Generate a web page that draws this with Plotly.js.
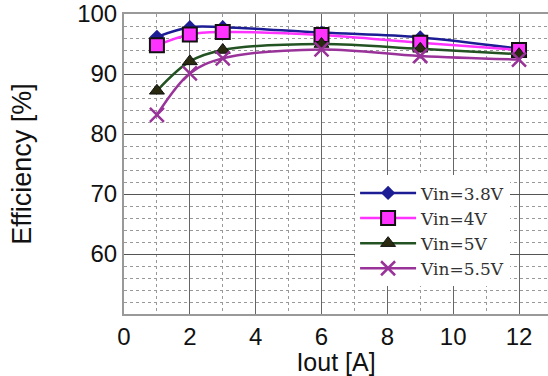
<!DOCTYPE html>
<html>
<head>
<meta charset="utf-8">
<script src="https://cdn.plot.ly/plotly-3.0.1.min.js"></script>
<style>html,body{margin:0;padding:0;background:#fff;}#chart{width:548px;height:376px;}</style>
</head>
<body>
<div id="chart"></div>
<script>
const iout = [1, 2, 3, 6, 9, 12];
const vin38 = [96.2, 97.8, 97.8, 96.9, 96.1, 94.2];
const vin4 = [94.8, 96.6, 97.0, 96.5, 95.2, 94.0];
const vin5 = [87.2, 92.1, 94.0, 95.0, 94.2, 93.3];
const vin55 = [83.2, 90.1, 92.6, 94.1, 93.0, 92.4];
const seriesNames = ['Vin=3.8V', 'Vin=4V', 'Vin=5V', 'Vin=5.5V'];
const xTicks = [0, 2, 4, 6, 8, 10, 12];
const yTicks = [60, 70, 80, 90, 100];

const traces = [
  {x: iout, y: vin38, name: seriesNames[0], mode: 'lines+markers',
   line: {color: '#1c1c94', width: 2.5, shape: 'spline'},
   marker: {symbol: 'diamond', size: 11, color: '#1c1c94'}},
  {x: iout, y: vin4, name: seriesNames[1], mode: 'lines+markers',
   line: {color: '#ff33ff', width: 2.5, shape: 'spline'},
   marker: {symbol: 'square', size: 14, color: '#ff33ff', line: {color: '#111', width: 2}}},
  {x: iout, y: vin5, name: seriesNames[2], mode: 'lines+markers',
   line: {color: '#235323', width: 2.5, shape: 'spline'},
   marker: {symbol: 'triangle-up', size: 13, color: '#2a2a10', line: {color: '#111', width: 1}}},
  {x: iout, y: vin55, name: seriesNames[3], mode: 'lines+markers',
   line: {color: '#993399', width: 2.5, shape: 'spline'},
   marker: {symbol: 'x-thin', size: 14, color: '#993399', line: {color: '#993399', width: 2.5}}}
];

const layout = {
  width: 548, height: 376,
  margin: {l: 124, r: 0, t: 14, b: 62},
  paper_bgcolor: '#fff', plot_bgcolor: '#fff',
  showlegend: true,
  legend: {x: 0.545, y: 0.462, xanchor: 'left', yanchor: 'top',
    bgcolor: '#fff', borderwidth: 0, itemwidth: 56,
    font: {family: 'DejaVu Serif, serif', size: 17, color: '#333'}},
  xaxis: {range: [0, 12.88], tickvals: xTicks, ticktext: xTicks.map(String),
    showgrid: true, gridcolor: '#666', gridwidth: 1,
    minor: {dtick: 1, tick0: 0, showgrid: true, gridcolor: '#999', griddash: 'dot', gridwidth: 1},
    showline: true, linecolor: '#999', linewidth: 2, mirror: true,
    zeroline: false, ticks: '', ticklabeloverflow: 'allow',
    tickfont: {family: 'Liberation Sans, Arial, sans-serif', size: 24, color: '#111'},
    title: {text: 'Iout [A]', font: {family: 'Liberation Sans, Arial, sans-serif', size: 25, color: '#111'}, standoff: 3}},
  yaxis: {range: [50, 100], tickvals: yTicks, ticktext: yTicks.map(String),
    showgrid: true, gridcolor: '#555', gridwidth: 1,
    minor: {dtick: 2, tick0: 50, showgrid: true, gridcolor: '#999', griddash: 'dot', gridwidth: 1},
    showline: true, linecolor: '#999', linewidth: 2,
    zeroline: false, ticks: '', ticklabeloverflow: 'allow',
    tickfont: {family: 'Liberation Sans, Arial, sans-serif', size: 24, color: '#111'},
    title: {text: 'Efficiency [%]', font: {family: 'Liberation Sans, Arial, sans-serif', size: 27, color: '#111'}, standoff: 38}}
};

Plotly.newPlot('chart', traces, layout, {displayModeBar: false, staticPlot: true});
</script>
</body>
</html>
